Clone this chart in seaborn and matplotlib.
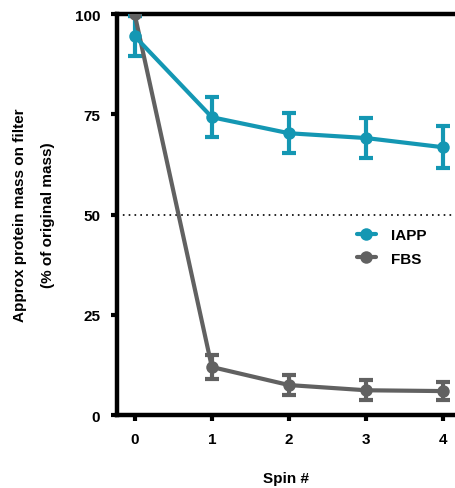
import matplotlib
matplotlib.use("Agg")
import matplotlib.pyplot as plt
import seaborn as sns
import pandas as pd

spins = [0, 1, 2, 3, 4]
iapp_mean = [94.5, 74.3, 70.3, 69.1, 66.8]
iapp_err = [5.0, 5.0, 5.0, 5.0, 5.2]
fbs_mean = [100.0, 12.0, 7.5, 6.2, 6.0]
fbs_err = [0.5, 3.0, 2.5, 2.5, 2.3]
series = ["IAPP", "FBS"]
yticks = [0, 25, 50, 75, 100]

colors = {"IAPP": "#1497b3", "FBS": "#616161"}

df = pd.DataFrame({
    "Spin": spins * 2,
    "Mass": iapp_mean + fbs_mean,
    "Err": iapp_err + fbs_err,
    "Series": ["IAPP"] * 5 + ["FBS"] * 5,
})

sns.set_style("ticks", {"text.color": "black", "axes.labelcolor": "black",
                        "xtick.color": "black", "ytick.color": "black",
                        "axes.edgecolor": "black"})
plt.rcParams["font.family"] = ["Liberation Sans", "DejaVu Sans"]
plt.rcParams["font.weight"] = "bold"

fig = plt.figure(figsize=(4.55, 4.89), dpi=100)
ax = fig.add_axes([0.257, 0.149, 0.743, 0.82])

ax.axhline(50, color="black", lw=1.2, ls=(0, (1, 2.5)), zorder=1)

for s in ["FBS", "IAPP"]:
    sub = df[df["Series"] == s]
    ax.errorbar(sub["Spin"], sub["Mass"], yerr=sub["Err"], fmt="none",
                ecolor=colors[s], elinewidth=3, capsize=5, capthick=3, zorder=3)
    sns.lineplot(data=sub, x="Spin", y="Mass", ax=ax, color=colors[s],
                 lw=3, marker="o", markersize=9, markeredgewidth=0,
                 label=s, zorder=4)

ax.set_xlim(-0.23, 4.15)
ax.set_ylim(0, 100)
ax.set_xticks(spins)
ax.set_xticklabels([str(v) for v in spins], fontsize=11, fontweight="bold", color="black")
ax.set_yticks(yticks)
ax.set_yticklabels([str(v) for v in yticks], fontsize=11, fontweight="bold", color="black")
ax.tick_params(axis="both", direction="out", length=4, width=3, pad=8, colors="black")

for side in ["left", "bottom", "top"]:
    ax.spines[side].set_linewidth(3.2)
    ax.spines[side].set_color("black")
ax.spines["right"].set_visible(False)
ax.spines["top"].set_visible(True)

ax.set_xlabel("Spin #", fontsize=11, fontweight="bold", labelpad=18, color="black")
ax.set_ylabel("Approx protein mass on filter\n(% of original mass)",
              fontsize=11, fontweight="bold", labelpad=14, linespacing=2.3,
              color="black")

handles, labels = ax.get_legend_handles_labels()
order = [labels.index("IAPP"), labels.index("FBS")]
leg = ax.legend([handles[i] for i in order], [labels[i] for i in order],
                loc="upper left", bbox_to_anchor=(0.67, 0.5), frameon=False,
                handlelength=1.2, handletextpad=1.0, labelspacing=0.6,
                prop={"size": 11, "weight": "bold"})
for t in leg.get_texts():
    t.set_color("black")

fig.savefig("out.png", dpi=100)
